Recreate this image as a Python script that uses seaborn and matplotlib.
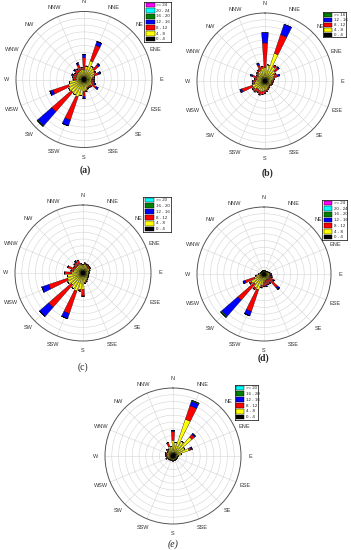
import numpy as np
import matplotlib
matplotlib.use("Agg")
import matplotlib.pyplot as plt
from matplotlib.patches import Rectangle
import seaborn as sns

sns.set_theme(style="white")
plt.rcParams['font.family'] = ['Liberation Sans', 'DejaVu Sans']

# ---------------- data ----------------
# 32 direction sectors (degrees, clockwise from North)
directions = [0, 11.25, 22.5, 33.75, 45, 56.25, 67.5, 78.75, 90, 101.25, 112.5, 123.75,
              135, 146.25, 157.5, 168.75, 180, 191.25, 202.5, 213.75, 225, 236.25, 247.5,
              258.75, 270, 281.25, 292.5, 303.75, 315, 326.25, 337.5, 348.75]
compass_labels = ['N', 'NNE', 'NE', 'ENE', 'E', 'ESE', 'SE', 'SSE',
                  'S', 'SSW', 'SW', 'WSW', 'W', 'WNW', 'NW', 'NNW']

bin_colors = {'0 - 4': '#000000', '4 - 8': '#ffff00', '8 - 12': '#ff0000',
              '12 - 16': '#0000ff', '16 - 20': '#008000', '20 - 24': '#00ffff',
              '>= 24': '#ff00ff', '>= 16': '#008000', '>= 20': '#00ffff'}

# rose (a)
a_bins = ['0 - 4', '4 - 8', '8 - 12', '12 - 16', '16 - 20', '20 - 24', '>= 24']
a_0_4 = [0.4] * 32
a_4_8 = [1.0, 1.6, 2.5, 1.8, 1.6, 1.4, 1.2, 0.9, 0.7, 0.7, 0.8, 1.0, 0.8, 0.8, 0.9, 1.2,
         1.4, 2.0, 2.3, 2.2, 2.1, 2.2, 2.0, 1.8, 0.7, 0.8, 0.8, 0.8, 0.9, 0.9, 1.0, 1.1]
a_8_12 = [1.8, 0, 2.4, 0, 0.8, 0.2, 0.7, 0.3, 0.2, 0.3, 0.4, 0.7, 0.3, 0.2, 0.2, 0.2,
          0.7, 0, 3.6, 0, 3.8, 0, 2.4, 0, 0.5, 0.5, 0.5, 0.4, 0.5, 0.5, 0.9, 0.3]
a_12_16 = [0.5, 0, 0.6, 0, 0.3, 0, 0.3, 0, 0.2, 0.2, 0.2, 0.3, 0, 0, 0, 0,
           0.3, 0, 0.9, 0, 2.7, 0, 0.5, 0, 0, 0, 0.2, 0, 0.2, 0, 0.3, 0]
a_16_20 = [0, 0, 0, 0, 0, 0, 0, 0, 0, 0, 0, 0, 0, 0, 0, 0,
           0, 0, 0, 0, 0.15, 0, 0, 0, 0, 0, 0, 0, 0, 0, 0, 0]
a_20_24 = [0] * 32
a_24p = [0] * 32

# rose (b)
b_bins = ['0 - 4', '4 - 8', '8 - 12', '12 - 16', '>= 16']
b_0_4 = [0.4] * 32
b_4_8 = [1.6, 2.0, 3.9, 2.0, 1.6, 1.2, 1.0, 0.8, 0.6, 0.6, 0.6, 0.5, 0.5, 0.6, 0.7, 0.9,
         1.0, 1.2, 1.3, 1.2, 1.2, 1.5, 1.6, 1.2, 1.0, 0.8, 0.9, 0.8, 1.0, 1.2, 1.3, 1.5]
b_8_12 = [3.6, 0, 2.9, 0.3, 0.6, 0.3, 0.6, 0.2, 0.2, 0.2, 0.2, 0.2, 0.1, 0.2, 0.2, 0.3,
          0.4, 0.4, 0.5, 0.4, 0.6, 0.3, 1.6, 0.3, 0.4, 0.4, 0.7, 0.3, 0.3, 0.3, 0.8, 0.3]
b_12_16 = [1.5, 0, 1.6, 0, 0.2, 0, 0.3, 0, 0.1, 0, 0, 0, 0, 0, 0, 0,
           0, 0, 0, 0, 0, 0, 0.3, 0, 0, 0, 0.3, 0, 0, 0, 0.3, 0]
b_16p = [0] * 32

# rose (c)
c_bins = ['0 - 4', '4 - 8', '8 - 12', '12 - 16', '16 - 20', '>= 20']
c_0_4 = [0.4] * 32
c_4_8 = [0.8, 0.9, 0.8, 0.7, 0.6, 0.7, 0.6, 0.5, 0.5, 0.4, 0.4, 0.5, 0.6, 0.7, 0.8, 1.0,
         2.0, 2.1, 2.4, 2.3, 1.9, 2.2, 2.0, 1.9, 1.3, 1.0, 1.0, 0.9, 0.9, 0.9, 1.0, 0.8]
c_8_12 = [0, 0.2, 0.2, 0.3, 0.3, 0.2, 0.1, 0, 0, 0, 0.1, 0.1, 0, 0.1, 0.2, 0.2,
          1.0, 0.2, 3.5, 0, 4.4, 0, 2.9, 0, 1.0, 0.4, 1.0, 0.3, 0.5, 0.5, 0.6, 0.2]
c_12_16 = [0, 0, 0, 0, 0, 0, 0, 0, 0, 0, 0, 0, 0, 0, 0, 0,
           0, 0, 0.8, 0, 1.8, 0, 1.1, 0, 0, 0, 0, 0, 0, 0.3, 0, 0]
c_16_20 = [0] * 32
c_20p = [0] * 32

# rose (d)
d_bins = ['0 - 4', '4 - 8', '8 - 12', '12 - 16', '16 - 20', '20 - 24', '>= 24']
d_0_4 = [0.3, 0.3, 0.3, 0.3, 0.3, 0.3, 0.3, 0.4, 0.4, 0.4, 0.4, 0.4, 0.4, 0.4, 0.4, 0.4,
         0.4, 0.4, 0.4, 0.4, 0.4, 0.4, 0.4, 0.4, 0.4, 0.3, 0.3, 0.3, 0.3, 0.3, 0.3, 0.3]
d_4_8 = [0.2, 0.2, 0.2, 0.2, 0.2, 0.3, 0.4, 0.4, 0.4, 0.4, 0.4, 0.5, 0.6, 0.5, 0.5, 0.6,
         0.8, 1.3, 2.1, 2.0, 1.6, 1.8, 1.1, 0.7, 0.4, 0.3, 0.2, 0.2, 0.2, 0.2, 0.2, 0.2]
d_8_12 = [0, 0, 0, 0, 0, 0, 0, 0.1, 0.2, 0.2, 0.3, 0.7, 1.7, 0.6, 0.8, 0.7,
          0.7, 0.4, 3.4, 0.3, 3.2, 0.3, 1.5, 0.2, 0, 0, 0, 0, 0, 0, 0, 0]
d_12_16 = [0, 0, 0, 0, 0, 0, 0, 0, 0.1, 0.2, 0.2, 0.2, 0.4, 0.2, 0, 0.2,
           0, 0, 0.7, 0, 3.2, 0, 0.3, 0, 0, 0, 0, 0, 0, 0, 0, 0]
d_16_20 = [0, 0, 0, 0, 0, 0, 0, 0, 0, 0, 0, 0, 0, 0, 0, 0,
           0, 0, 0, 0, 0.2, 0, 0, 0, 0, 0, 0, 0, 0, 0, 0, 0]
d_20_24 = [0] * 32
d_24p = [0] * 32

# rose (e)
e_bins = ['0 - 4', '4 - 8', '8 - 12', '12 - 16', '16 - 20', '>= 20']
e_0_4 = [0.5, 0.5, 0.5, 0.5, 0.5, 0.5, 0.5, 0.5, 0.4, 0.4, 0.4, 0.4, 0.4, 0.4, 0.4, 0.4,
         0.4, 0.4, 0.4, 0.4, 0.4, 0.4, 0.4, 0.4, 0.4, 0.4, 0.4, 0.4, 0.4, 0.4, 0.4, 0.4]
e_4_8 = [1.8, 1.5, 5.2, 2.0, 3.2, 1.5, 2.0, 0.8, 0.4, 0.3, 0.3, 0.3, 0.3, 0.3, 0.3, 0.3,
         0.3, 0.3, 0.3, 0.3, 0.3, 0.4, 0.5, 0.5, 0.5, 0.5, 0.6, 0.6, 0.6, 0.8, 1.1, 1.0]
e_8_12 = [1.3, 0, 2.1, 0, 0.5, 0, 0.3, 0, 0, 0, 0, 0, 0, 0, 0, 0,
          0.1, 0, 0, 0, 0.1, 0, 0.2, 0, 0.2, 0.2, 0.2, 0, 0.3, 0, 0.6, 0]
e_12_16 = [0.2, 0, 0.7, 0, 0.2, 0, 0.2, 0, 0, 0, 0, 0, 0, 0, 0, 0,
           0, 0, 0, 0, 0, 0, 0, 0, 0, 0, 0, 0, 0, 0, 0, 0]
e_16_20 = [0, 0, 0.15, 0, 0, 0, 0, 0, 0, 0, 0, 0, 0, 0, 0, 0,
           0, 0, 0, 0, 0, 0, 0, 0, 0, 0, 0, 0, 0, 0, 0, 0]
e_20p = [0] * 32

roses = [
    ('(a)', a_bins, [a_0_4, a_4_8, a_8_12, a_12_16, a_16_20, a_20_24, a_24p]),
    ('(b)', b_bins, [b_0_4, b_4_8, b_8_12, b_12_16, b_16p]),
    ('(c)', c_bins, [c_0_4, c_4_8, c_8_12, c_12_16, c_16_20, c_20p]),
    ('(d)', d_bins, [d_0_4, d_4_8, d_8_12, d_12_16, d_16_20, d_20_24, d_24p]),
    ('(e)', e_bins, [e_0_4, e_4_8, e_8_12, e_12_16, e_16_20, e_20p]),
]

# ---------------- layout (pixels) ----------------
W, H = 351, 550
rose_geom = [(84, 79.5, 68), (265, 81, 68), (83, 273, 68), (264, 274, 67), (173, 456, 68)]
legend_boxes = [(144, 2, 171, 42), (323, 12, 346, 37), (143, 197, 171, 232),
                (322, 200, 347, 240), (235, 385, 258, 420)]
caption_pos = [(85, 170), (268, 173), (83, 367), (263, 358), (173, 544)]
caption_style = [('bold', 'normal'), ('bold', 'normal'), ('normal', 'normal'),
                 ('bold', 'normal'), ('normal', 'italic')]

fig = plt.figure(figsize=(W / 100, H / 100), dpi=100)
fig.patch.set_facecolor('white')

theta = np.deg2rad(directions)
bar_w = np.deg2rad(8.0)

for (cap, bins, segs), (cx, cy, r), box, cpos, cst in zip(roses, rose_geom, legend_boxes,
                                                          caption_pos, caption_style):
    ax = fig.add_axes([(cx - r) / W, 1 - (cy + r) / H, 2 * r / W, 2 * r / H],
                      projection='polar')
    ax.set_theta_zero_location('N')
    ax.set_theta_direction(-1)
    ax.set_facecolor('white')
    bottom = np.zeros(len(directions))
    for lab, vals in zip(bins, segs):
        vals = np.asarray(vals, dtype=float)
        ax.bar(theta, vals, width=bar_w, bottom=bottom, color=bin_colors[lab],
               edgecolor='black', linewidth=0.25, zorder=3)
        bottom = bottom + vals
    ax.set_ylim(0, 10)
    ax.set_yticks(np.arange(1, 10))
    ax.set_yticklabels([])
    ax.set_xticks(np.deg2rad(np.arange(16) * 22.5))
    ax.set_xticklabels(compass_labels, fontsize=4, color='#333333')
    ax.tick_params(axis='x', pad=0.0, length=0, size=0)
    ax.tick_params(axis='y', length=0, size=0)
    ax.grid(True, color='#d4d4d4', linewidth=0.4)
    ax.spines['polar'].set_color('#555555')
    ax.spines['polar'].set_linewidth(0.7)

    # legend
    x0, y0, x1, y1 = box
    lax = fig.add_axes([x0 / W, 1 - y1 / H, (x1 - x0) / W, (y1 - y0) / H])
    n = len(bins)
    lax.set_xlim(0, 1)
    lax.set_ylim(n, 0)
    lax.set_xticks([])
    lax.set_yticks([])
    lax.set_facecolor('white')
    for sp in lax.spines.values():
        sp.set_linewidth(0.5)
        sp.set_color('black')
        sp.set_visible(True)
    for i, lab in enumerate(bins[::-1]):
        lax.add_patch(Rectangle((0.06, i + 0.1), 0.34, 0.8, facecolor=bin_colors[lab],
                                edgecolor='black', linewidth=0.3))
        lax.text(0.46, i + 0.52, lab, fontsize=3.2, va='center', ha='left', color='#222222')

    fig.text(cpos[0] / W, 1 - cpos[1] / H, cap, ha='center', va='center', fontsize=7,
             fontweight=cst[0], fontstyle=cst[1], family=['Liberation Serif', 'DejaVu Serif'])

fig.savefig('out.png', dpi=100, facecolor='white')
